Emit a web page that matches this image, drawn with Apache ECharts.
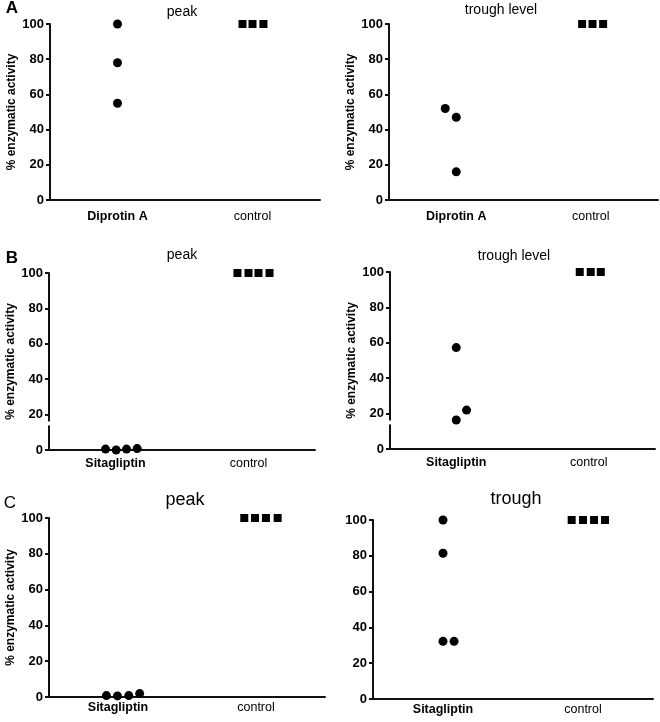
<!DOCTYPE html>
<html><head><meta charset="utf-8">
<script src="https://cdn.jsdelivr.net/npm/echarts@6/dist/echarts.min.js"></script>
<style>html,body{margin:0;padding:0;background:#fff}#c{width:660px;height:722px}</style>
</head><body><div id="c"></div>
<script>
// ---------- data ----------
const catsA = ['Diprotin A', 'control'];
const catsBC = ['Sitagliptin', 'control'];
const panelTitles = ['peak', 'trough level', 'peak', 'trough level', 'peak', 'trough'];
const panelLetters = ['A', 'B', 'C'];
const yAxisName = '% enzymatic activity';
const yTicks = [0, 20, 40, 60, 80, 100];

// % enzymatic activity per point, with horizontal jitter (in category units)
const aPeakDrug = [100, 78, 55];
const aPeakDrugJit = [0, 0, 0];
const aPeakCtrl = [100, 100, 100];
const aPeakCtrlJit = [-0.074, 0, 0.081];

const aTroughDrug = [52, 47, 16];
const aTroughDrugJit = [-0.082, 0, 0];
const aTroughCtrl = [100, 100, 100];
const aTroughCtrlJit = [-0.064, 0.013, 0.092];

const bPeakDrug = [0.5, 0, 0.5, 0.8];
const bPeakDrugJit = [-0.075, 0.005, 0.083, 0.163];
const bPeakCtrl = [100, 100, 100, 100];
const bPeakCtrlJit = [-0.083, 0, 0.075, 0.158];

const bTroughDrug = [57.3, 16.4, 22];
const bTroughDrugJit = [0, 0, 0.078];
const bTroughCtrl = [100, 100, 100];
const bTroughCtrlJit = [-0.068, 0.015, 0.091];

const cPeakDrug = [0.8, 0.6, 0.8, 1.9];
const cPeakDrugJit = [-0.084, -0.004, 0.078, 0.157];
const cPeakCtrl = [100, 100, 100, 100];
const cPeakCtrlJit = [-0.085, -0.007, 0.072, 0.157];

const cTroughDrug = [100, 81.4, 32.2, 32.2];
const cTroughDrugJit = [0, 0, 0, 0.079];
const cTroughCtrl = [100, 100, 100, 100];
const cTroughCtrlJit = [-0.081, 0, 0.079, 0.157];

// ---------- layout ----------
const FONT = '"Liberation Sans", Arial, sans-serif';
const INK = '#000';
const panels = [
  {cats: catsA,  drug: aPeakDrug,   drugJit: aPeakDrugJit,   ctrl: aPeakCtrl,   ctrlJit: aPeakCtrlJit,   grid: {left: 50,  top: 24,  width: 270, height: 176}, labelMargin: 10, showName: true, title: {x: 182, y: 12, size: 14}, brk: false},
  {cats: catsA,  drug: aTroughDrug, drugJit: aTroughDrugJit, ctrl: aTroughCtrl, ctrlJit: aTroughCtrlJit, grid: {left: 389, top: 24,  width: 269, height: 176}, labelMargin: 10, showName: true, title: {x: 501, y: 10, size: 14}, brk: false},
  {cats: catsBC, drug: bPeakDrug,   drugJit: bPeakDrugJit,   ctrl: bPeakCtrl,   ctrlJit: bPeakCtrlJit,   grid: {left: 49,  top: 273, width: 266, height: 177}, labelMargin: 7, showName: true, title: {x: 182, y: 255, size: 14}, brk: true},
  {cats: catsBC, drug: bTroughDrug, drugJit: bTroughDrugJit, ctrl: bTroughCtrl, ctrlJit: bTroughCtrlJit, grid: {left: 390, top: 272, width: 265, height: 177}, labelMargin: 7, showName: true, title: {x: 514, y: 256, size: 14}, brk: true},
  {cats: catsBC, drug: cPeakDrug,   drugJit: cPeakDrugJit,   ctrl: cPeakCtrl,   ctrlJit: cPeakCtrlJit,   grid: {left: 49,  top: 518, width: 276, height: 179}, labelMargin: 4, showName: true, title: {x: 185, y: 500, size: 18}, brk: false},
  {cats: catsBC, drug: cTroughDrug, drugJit: cTroughDrugJit, ctrl: cTroughCtrl, ctrlJit: cTroughCtrlJit, grid: {left: 373, top: 520, width: 280, height: 179}, labelMargin: 4, showName: false, title: {x: 516, y: 499, size: 18}, brk: false}
];
const letterPos = [{x: 12, y: 8, w: 'bold'}, {x: 12, y: 258, w: 'bold'}, {x: 10, y: 503, w: 'normal'}];

const grids = [], xAxes = [], yAxes = [], series = [], texts = [];
panels.forEach((p, i) => {
  grids.push(Object.assign({containLabel: false}, p.grid));
  xAxes.push({
    type: 'category', gridIndex: i, data: p.cats, boundaryGap: true,
    axisLine: {onZero: false, lineStyle: {color: '#111', width: 2}},
    axisTick: {alignWithLabel: true, length: 5, lineStyle: {color: '#111', width: 2}},
    axisLabel: {
      margin: p.labelMargin, interval: 0,
      formatter: v => v === 'control' ? '{n|' + v + '}' : '{b|' + v + '}',
      rich: {
        b: {fontFamily: FONT, fontWeight: 'bold', fontSize: 12.5, color: INK},
        n: {fontFamily: FONT, fontWeight: 'normal', fontSize: 12.5, color: INK}
      }
    },
    splitLine: {show: false}
  });
  xAxes.push({type: 'value', gridIndex: i, min: -0.5, max: 1.5, show: false});
  yAxes.push({
    type: 'value', gridIndex: i, position: 'left', min: yTicks[0], max: yTicks[yTicks.length - 1],
    interval: yTicks[1] - yTicks[0],
    name: p.showName ? yAxisName : '', nameLocation: 'middle', nameGap: 32,
    nameTextStyle: {fontFamily: FONT, fontWeight: 'bold', fontSize: 12, color: INK},
    axisLine: {show: true, onZero: false, lineStyle: {color: '#111', width: 2}},
    axisTick: {show: true, length: 4, lineStyle: {color: '#111', width: 2}},
    axisLabel: {fontFamily: FONT, fontWeight: 'bold', fontSize: 13, color: INK, margin: 6},
    splitLine: {show: false}
  });
  series.push({
    type: 'scatter', xAxisIndex: 2 * i + 1, yAxisIndex: i,
    symbol: 'circle', symbolSize: 9, itemStyle: {color: '#000', opacity: 1}, clip: false,
    data: p.drug.map((v, k) => [0 + p.drugJit[k], v])
  });
  series.push({
    type: 'scatter', xAxisIndex: 2 * i + 1, yAxisIndex: i,
    symbol: 'rect', symbolSize: 8, itemStyle: {color: '#000', opacity: 1}, clip: false,
    data: p.ctrl.map((v, k) => [1 + p.ctrlJit[k], v])
  });
  texts.push({
    type: 'text', x: p.title.x, y: p.title.y, z: 10,
    style: {text: panelTitles[i], font: 'normal ' + p.title.size + 'px ' + FONT, fill: INK, textAlign: 'center', textVerticalAlign: 'middle'}
  });
});
panelLetters.forEach((L, i) => {
  const lp = letterPos[i];
  texts.push({
    type: 'text', x: lp.x, y: lp.y, z: 10,
    style: {text: L, font: lp.w + ' 17px ' + FONT, fill: INK, textAlign: 'center', textVerticalAlign: 'middle'}
  });
});

const chart = echarts.init(document.getElementById('c'), null, {renderer: 'canvas'});
chart.setOption({
  animation: false,
  backgroundColor: '#fff',
  grid: grids, xAxis: xAxes, yAxis: yAxes, series: series,
  graphic: texts
});

// axis-break gap on the y axes of panel B (drawn as a white band over the axis line)
const breakValue = 15;
const gaps = [];
panels.forEach((p, i) => {
  if (!p.brk) return;
  const yPix = chart.convertToPixel({yAxisIndex: i}, breakValue);
  const xPix = chart.convertToPixel({xAxisIndex: 2 * i + 1}, -0.5);
  gaps.push({
    type: 'rect', z: 100,
    shape: {x: xPix - 8, y: yPix - 2, width: 12, height: 4},
    style: {fill: '#fff'}
  });
});
chart.setOption({graphic: texts.concat(gaps)});
</script>
</body></html>
